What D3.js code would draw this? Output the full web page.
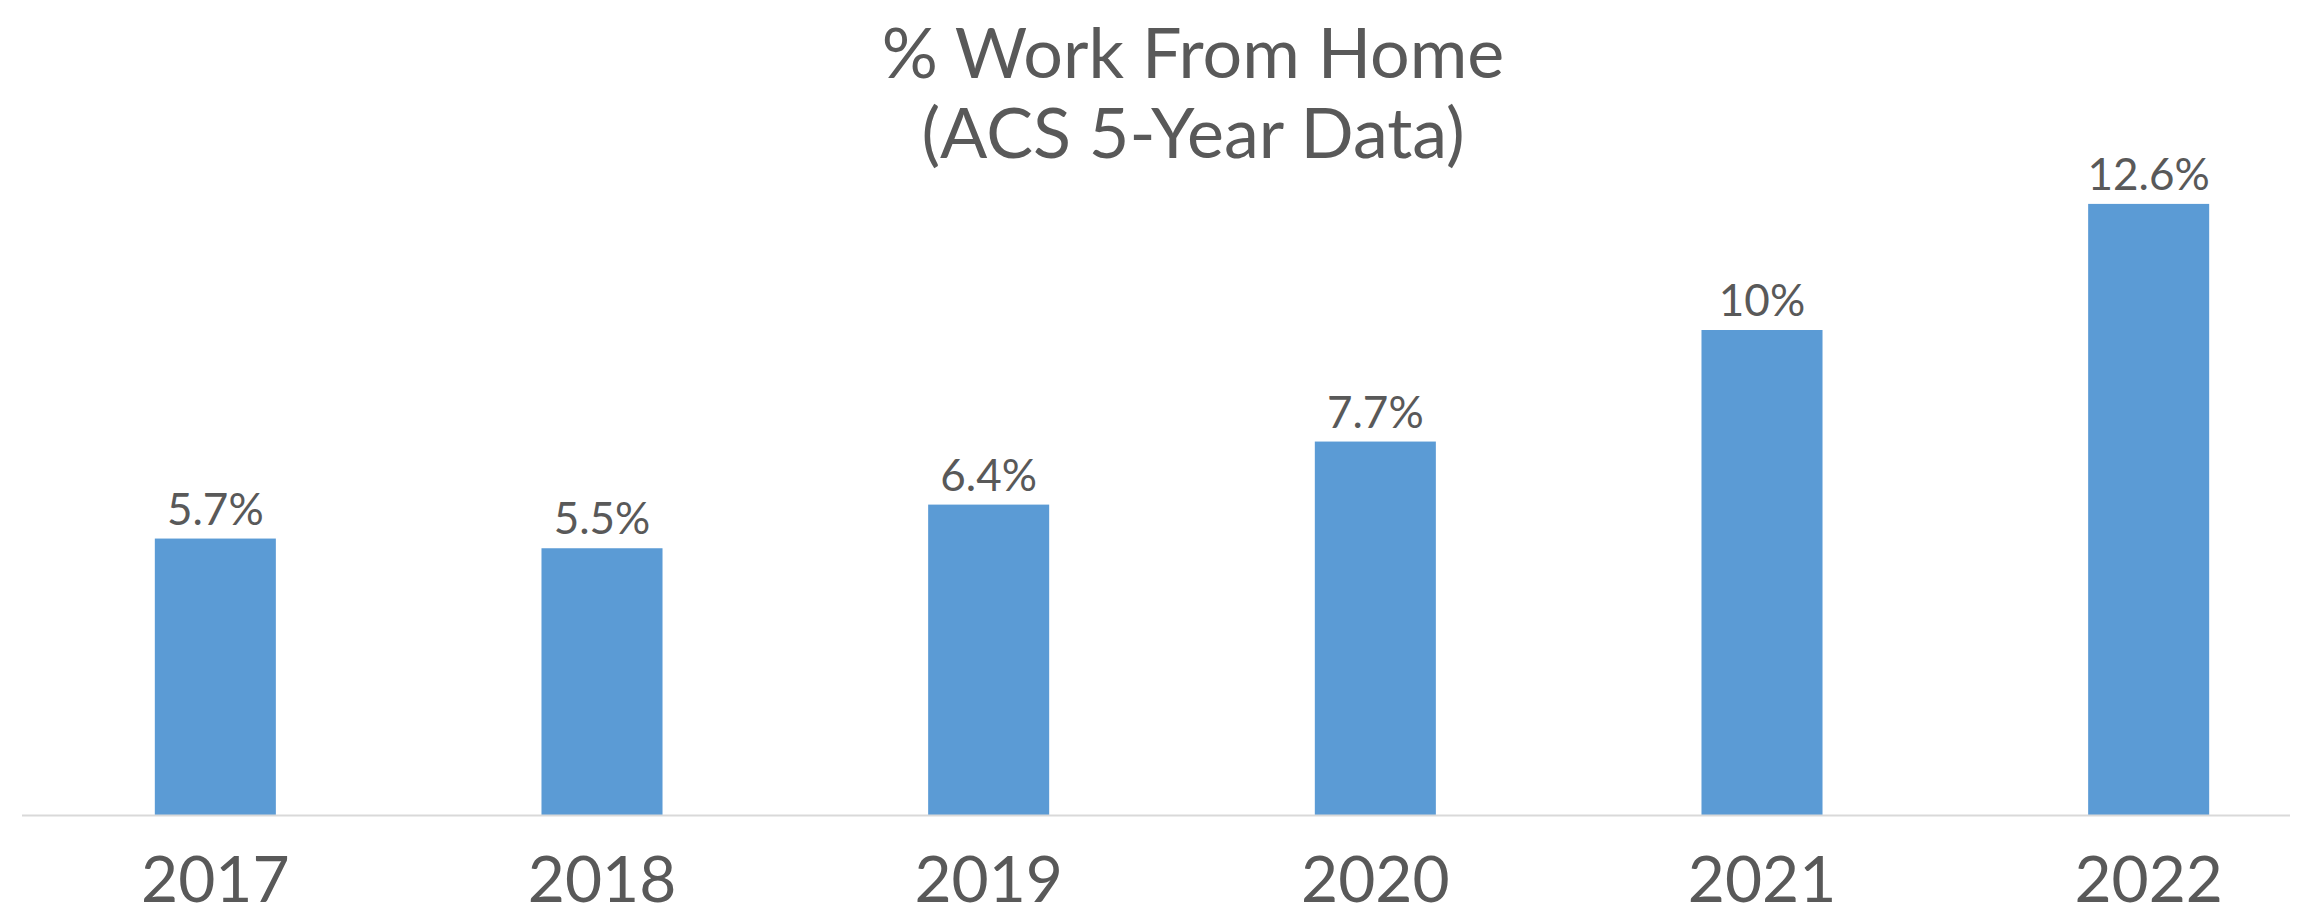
<!DOCTYPE html>
<html>
<head>
<meta charset="utf-8">
<script src="https://cdn.jsdelivr.net/npm/d3@7"></script>
<style>
  html, body { margin: 0; padding: 0; background: #fff; }
  svg text { font-family: Lato, "Open Sans", sans-serif; fill: #595959; }
</style>
</head>
<body>
<div id="chart"></div>
<script>
var width = 2305;
var height = 921;

// data
var years = ["2017", "2018", "2019", "2020", "2021", "2022"];
var wfh = [5.7, 5.5, 6.4, 7.7, 10, 12.6];
var wfhLabels = ["5.7%", "5.5%", "6.4%", "7.7%", "10%", "12.6%"];
var titleLines = ["% Work From Home", "(ACS 5-Year Data)"];

var barColor = "#5b9bd5";

var svg = d3.select("#chart")
  .append("svg")
  .attr("width", width)
  .attr("height", height);

// x: bands, outer padding half the inner one
var x = d3.scaleBand()
  .domain(years)
  .range([22, 2342])
  .paddingInner(0.687)
  .paddingOuter(0.3435);

// y: baseline at 815
var y = d3.scaleLinear()
  .domain([0, 14])
  .range([815, 815 - 14 * 48.5]);

// title
svg.append("text")
  .attr("x", 1193)
  .attr("y", 78)
  .attr("text-anchor", "middle")
  .style("font-size", "70px")
  .selectAll("tspan")
  .data(titleLines)
  .enter()
  .append("tspan")
  .attr("x", 1193)
  .attr("dy", function(d, i) { return i === 0 ? 0 : 80; })
  .text(function(d) { return d; });

// bars
svg.append("g")
  .selectAll("rect")
  .data(wfh)
  .enter()
  .append("rect")
  .attr("x", function(d, i) { return x(years[i]); })
  .attr("y", function(d) { return y(d); })
  .attr("width", x.bandwidth())
  .attr("height", function(d) { return y(0) - y(d); })
  .attr("fill", barColor);

// value labels
svg.append("g")
  .selectAll("text")
  .data(wfh)
  .enter()
  .append("text")
  .attr("x", function(d, i) { return x(years[i]) + x.bandwidth() / 2; })
  .attr("y", function(d) { return y(d) - 14; })
  .attr("text-anchor", "middle")
  .style("font-size", "44px")
  .text(function(d, i) { return wfhLabels[i]; });

// x axis (baseline + year labels)
var xAxis = d3.axisBottom(x).tickSize(0).tickPadding(42);
var gx = svg.append("g")
  .attr("transform", "translate(0," + y(0) + ")")
  .call(xAxis);
gx.select(".domain").remove();
gx.append("line")
  .attr("x1", 22)
  .attr("x2", 2290)
  .attr("y1", 0.5)
  .attr("y2", 0.5)
  .attr("stroke", "#d9d9d9")
  .attr("stroke-width", 2);
gx.selectAll(".tick text")
  .style("font-size", "64px")
  .style("font-family", "Lato, 'Open Sans', sans-serif")
  .attr("fill", "#595959");
</script>
</body>
</html>
